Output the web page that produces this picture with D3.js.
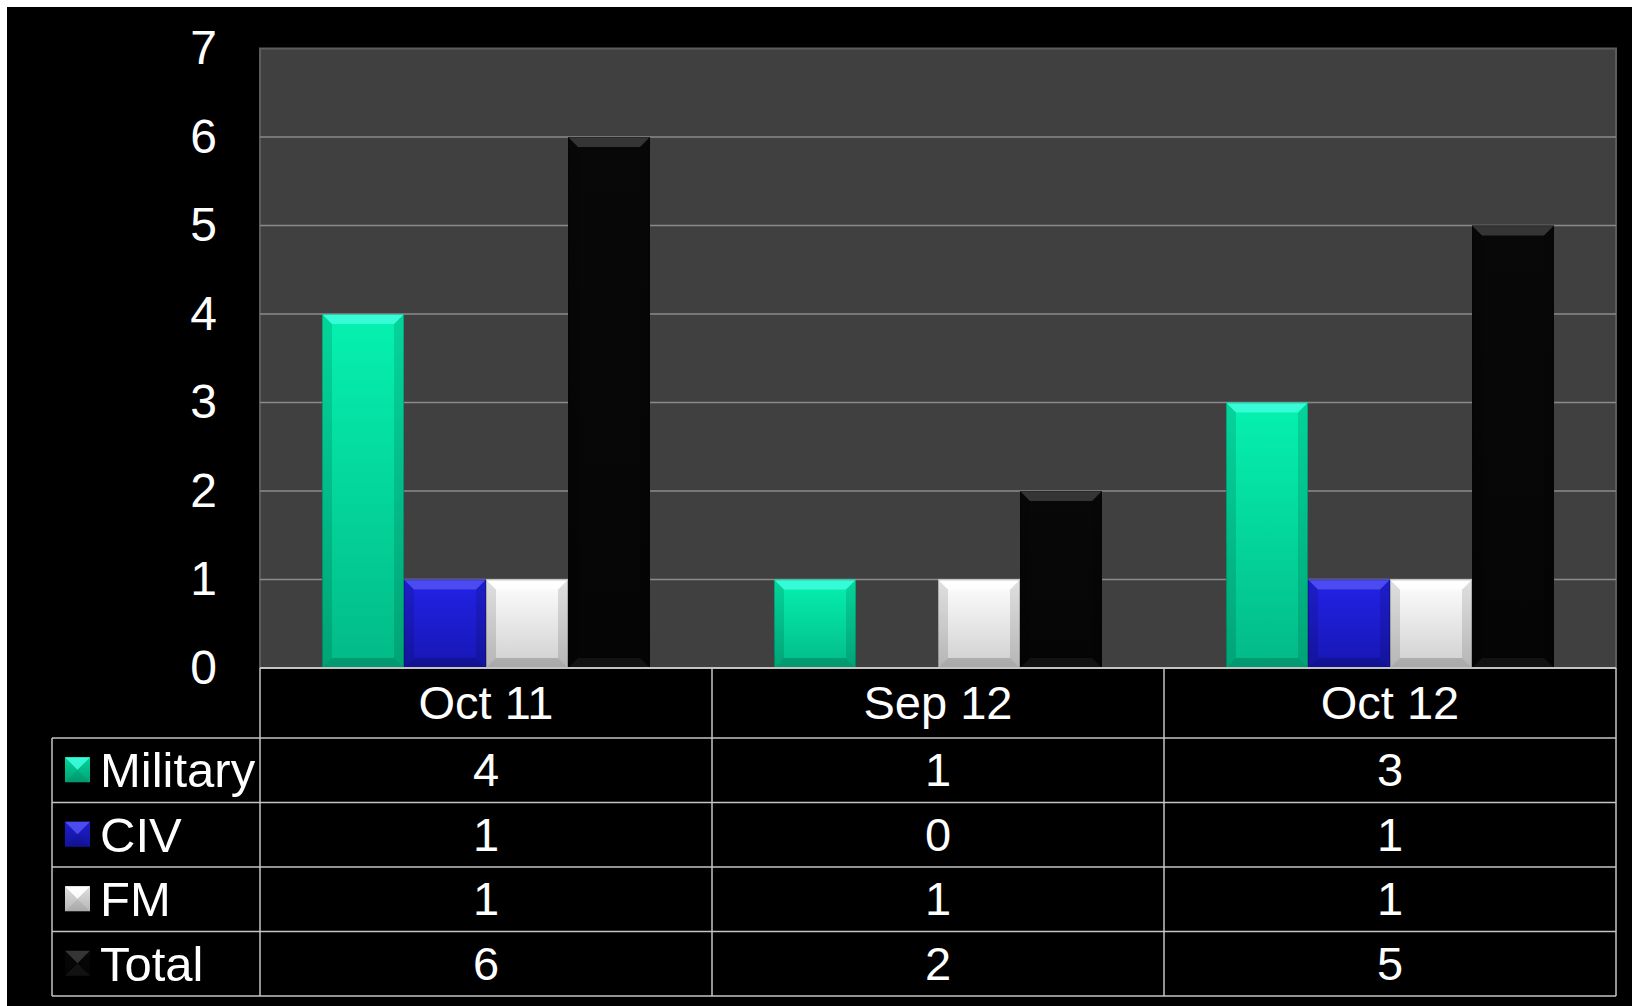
<!DOCTYPE html>
<html>
<head>
<meta charset="utf-8">
<script src="https://cdn.jsdelivr.net/npm/d3@7"></script>
<style>
  html, body { margin: 0; padding: 0; background: #fff; }
  svg text { font-family: "Liberation Sans", Arial, sans-serif; fill: #fff; }
</style>
</head>
<body>
<div id="chart"></div>
<script>
// Incidents by month - clustered columns with data table

var categories = ["Oct 11", "Sep 12", "Oct 12"];
var seriesNames = ["Military", "CIV", "FM", "Total"];
var military = [4, 1, 3];
var civ = [1, 0, 1];
var fm = [1, 1, 1];
var total = [6, 2, 5];
var yTicks = [0, 1, 2, 3, 4, 5, 6, 7];

var seriesValues = [military, civ, fm, total];

// colours: [top of gradient, bottom of gradient, top bevel]
var colors = {
  "Military": ["#05f2b0", "#02ba87", "#48ffe4"],
  "CIV": ["#2222e6", "#1717b4", "#5a5af6"],
  "FM": ["#ffffff", "#cfcfcf", "#ffffff"],
  "Total": ["#080808", "#050505", "#444444"]
};

var svgWidth = 1632;
var svgHeight = 1006;

var plot = { left: 260, right: 1616, top: 48.5, bottom: 668 };
var tableLeft = 52;
var rowBounds = [668, 738, 802.5, 867, 931.5, 996];

var svg = d3.select("#chart")
  .append("svg")
  .attr("width", svgWidth)
  .attr("height", svgHeight);

svg.append("rect")
  .attr("x", 7).attr("y", 7)
  .attr("width", svgWidth - 7).attr("height", svgHeight - 7)
  .attr("fill", "#000");

var defs = svg.append("defs");
seriesNames.forEach((s, i) => {
  var g = defs.append("linearGradient")
    .attr("id", "grad" + i)
    .attr("x1", 0).attr("y1", 0).attr("x2", 0).attr("y2", 1);
  g.append("stop").attr("offset", "0%").attr("stop-color", colors[s][0]);
  g.append("stop").attr("offset", "100%").attr("stop-color", colors[s][1]);
});

// scales
var x = d3.scaleBand()
  .domain(categories)
  .range([plot.left, plot.right]);

var x1 = d3.scaleBand()
  .domain(seriesNames)
  .range([0, x.bandwidth()])
  .paddingInner(0)
  .paddingOuter(0.756);

var y = d3.scaleLinear()
  .domain([0, 7])
  .range([plot.bottom, plot.top]);

// plot background
svg.append("rect")
  .attr("x", plot.left).attr("y", plot.top)
  .attr("width", plot.right - plot.left)
  .attr("height", plot.bottom - plot.top)
  .attr("fill", "#404040")
  .attr("stroke", "#5c5c5c")
  .attr("stroke-width", 2);

// gridlines
svg.append("g").selectAll("line")
  .data(yTicks.filter(d => d > 0 && d < 7))
  .enter()
  .append("line")
  .attr("x1", plot.left).attr("x2", plot.right)
  .attr("y1", d => y(d)).attr("y2", d => y(d))
  .attr("stroke", "#8a8a8a")
  .attr("stroke-width", 1.5);

// y axis labels
var yAxis = svg.append("g")
  .attr("transform", `translate(${plot.left},0)`)
  .call(d3.axisLeft(y).tickValues(yTicks).tickFormat(d3.format("d")).tickSize(0).tickPadding(43));
yAxis.select(".domain").remove();
yAxis.selectAll("text")
  .attr("font-size", "48px")
  .attr("font-family", "Liberation Sans, Arial, sans-serif")
  .attr("fill", "#fff");

// draws a bevelled box like the office "chisel" look
function bevelBox(g, bx, by, bw, bh, s, idx, b) {
  var c = colors[s];
  g.append("rect")
    .attr("x", bx).attr("y", by).attr("width", bw).attr("height", bh)
    .attr("fill", `url(#grad${idx})`);
  var top = [[bx, by], [bx + bw, by], [bx + bw - b, by + b], [bx + b, by + b]];
  var bot = [[bx, by + bh], [bx + bw, by + bh], [bx + bw - b, by + bh - b], [bx + b, by + bh - b]];
  var left = [[bx, by], [bx + b, by + b], [bx + b, by + bh - b], [bx, by + bh]];
  var right = [[bx + bw, by], [bx + bw - b, by + b], [bx + bw - b, by + bh - b], [bx + bw, by + bh]];
  g.append("polygon").attr("points", left.join(" ")).attr("fill", "#000").attr("opacity", 0.12);
  g.append("polygon").attr("points", right.join(" ")).attr("fill", "#000").attr("opacity", 0.12);
  g.append("polygon").attr("points", bot.join(" ")).attr("fill", "#000").attr("opacity", s === "Total" ? 0 : 0.18);
  g.append("polygon").attr("points", top.join(" ")).attr("fill", c[2]).attr("opacity", 0.75);
  if (s === "Total") {
    g.append("polygon").attr("points", bot.join(" ")).attr("fill", "#2a2a2a").attr("opacity", 0.35);
  }
}

// bars
var barGroup = svg.append("g");
categories.forEach((cat, ci) => {
  seriesNames.forEach((s, si) => {
    var v = seriesValues[si][ci];
    if (v <= 0) return;
    var bx = x(cat) + x1(s);
    var by = y(v);
    var bh = y(0) - y(v);
    bevelBox(barGroup.append("g"), bx, by, x1.bandwidth(), bh, s, si, Math.min(10, bh / 2));
    // thin darker outline at the sides
    barGroup.append("rect")
      .attr("x", bx + 0.5).attr("y", by + 0.5)
      .attr("width", x1.bandwidth() - 1).attr("height", bh - 1)
      .attr("fill", "none")
      .attr("stroke", "#000")
      .attr("stroke-opacity", 0.2);
  });
});

// data table
var tableColor = "#c4c4c4";
var table = svg.append("g");

// horizontal lines
table.append("line")
  .attr("x1", plot.left).attr("x2", plot.right)
  .attr("y1", rowBounds[0]).attr("y2", rowBounds[0])
  .attr("stroke", tableColor).attr("stroke-width", 2);
rowBounds.slice(1).forEach(ry => {
  table.append("line")
    .attr("x1", tableLeft).attr("x2", plot.right)
    .attr("y1", ry).attr("y2", ry)
    .attr("stroke", tableColor).attr("stroke-width", 1.5);
});

// vertical lines
table.append("line")
  .attr("x1", tableLeft).attr("x2", tableLeft)
  .attr("y1", rowBounds[1]).attr("y2", rowBounds[5])
  .attr("stroke", tableColor).attr("stroke-width", 1.5);
var colEdges = [plot.left].concat(categories.map(c => x(c) + x.bandwidth()));
colEdges.forEach(cx => {
  table.append("line")
    .attr("x1", cx).attr("x2", cx)
    .attr("y1", rowBounds[0]).attr("y2", rowBounds[5])
    .attr("stroke", tableColor).attr("stroke-width", 1.5);
});

// header labels
table.selectAll(".cat")
  .data(categories)
  .enter()
  .append("text")
  .attr("x", d => x(d) + x.bandwidth() / 2)
  .attr("y", (rowBounds[0] + rowBounds[1]) / 2 + 16)
  .attr("text-anchor", "middle")
  .attr("font-size", "47px")
  .text(d => d);

// rows
seriesNames.forEach((s, si) => {
  var cy = (rowBounds[si + 1] + rowBounds[si + 2]) / 2;
  bevelBox(table.append("g"), 65, cy - 13, 25, 25, s, si, 12.5);
  table.append("text")
    .attr("x", 100)
    .attr("y", cy + 17)
    .attr("font-size", "49px")
    .text(s);
  categories.forEach((cat, ci) => {
    table.append("text")
      .attr("x", x(cat) + x.bandwidth() / 2)
      .attr("y", cy + 16)
      .attr("text-anchor", "middle")
      .attr("font-size", "47px")
      .text(seriesValues[si][ci]);
  });
});
</script>
</body>
</html>
